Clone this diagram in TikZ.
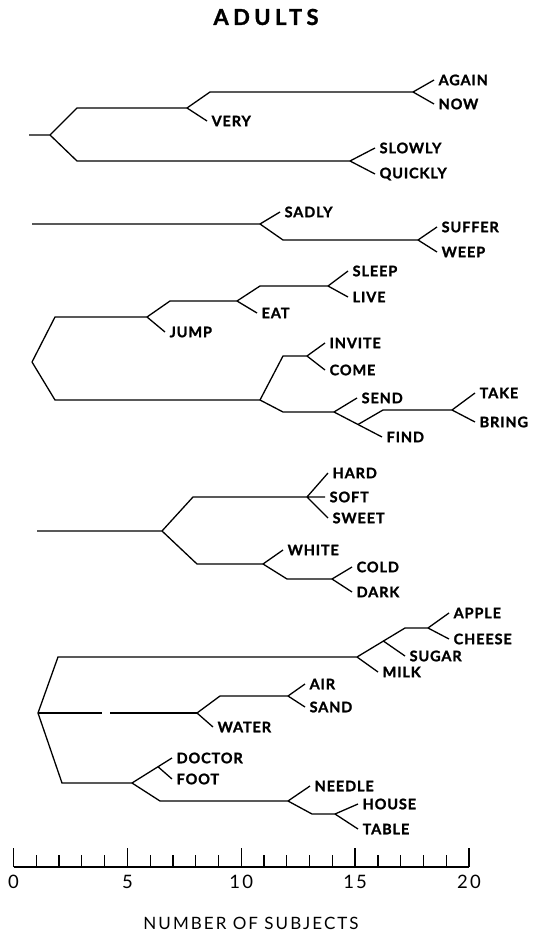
\documentclass[tikz,border=0pt]{standalone}
\usepackage{fontspec}
\setmainfont{Lato}
\newfontfamily\leaffont[LetterSpace=6,BoldFeatures={FakeBold=1.4}]{Lato}
\newfontfamily\titlefont[LetterSpace=20,BoldFeatures={FakeBold=1.4}]{Lato}
\newfontfamily\scalefont[LetterSpace=12]{Lato}
\usetikzlibrary{calc}
\begin{document}
\begin{tikzpicture}[x=1pt,y=-1pt,line width=1.3pt,
  leaf/.style={anchor=west,inner xsep=4pt,inner ysep=1pt,font=\leaffont\bfseries\fontsize{14.5}{15}\selectfont},
  numlabel/.style={font=\scalefont\fontsize{18.5}{18.5}\selectfont,inner sep=0pt}]
\useasboundingbox (0,0) rectangle (535,936);
\node[font=\titlefont\bfseries\fontsize{22}{22}\selectfont](title)at(266,17){ADULTS};
% group 1
\coordinate(s1)at(29,135);
\coordinate(a1)at(50,135);
\coordinate(a2)at(187,108);
\coordinate(a3)at(350,161);
\coordinate(a4)at(413,92);
\node[leaf](very)at(207,121){VERY};
\node[leaf](again)at(434,80){AGAIN};
\node[leaf](now)at(434,104){NOW};
\node[leaf](slowly)at(375,148){SLOWLY};
\node[leaf](quickly)at(375,174){QUICKLY};
\draw(s1)--(a1)--(77,108)--(a2)--(210,92)--(a4);
\draw(a1)--(77,161)--(a3);
\draw(a2)--(very.west);
\draw(a4)--(again.west) (a4)--(now.west);
\draw(a3)--(slowly.west) (a3)--(quickly.west);
% group 2
\coordinate(s2)at(32,224);
\coordinate(b1)at(260,224);
\coordinate(b2)at(418,240);
\node[leaf](sadly)at(280,212){SADLY};
\node[leaf](suffer)at(437,227){SUFFER};
\node[leaf](weep)at(437,252){WEEP};
\draw(s2)--(b1)--(283,240)--(b2);
\draw(b1)--(sadly.west);
\draw(b2)--(suffer.west) (b2)--(weep.west);
% group 3
\coordinate(c1)at(32,362);
\coordinate(c2)at(147,317);
\coordinate(c3)at(237,301);
\coordinate(c4)at(328,286);
\coordinate(c5)at(260,400);
\coordinate(c6)at(307,356);
\coordinate(c7)at(334,412);
\coordinate(c9)at(452,410);
\node[leaf](jump)at(165,332){JUMP};
\node[leaf](eat)at(257,313){EAT};
\node[leaf](sleep)at(348,271){SLEEP};
\node[leaf](live)at(348,297){LIVE};
\node[leaf](invite)at(325,343){INVITE};
\node[leaf](come)at(325,370){COME};
\node[leaf](send)at(357,398){SEND};
\node[leaf](find)at(382,437){FIND};
\node[leaf](take)at(475,393){TAKE};
\node[leaf](bring)at(475,422){BRING};
\coordinate(c8)at($(c7)!0.5!(find.west)$);
\draw(c1)--(55,317)--(c2)--(170,301)--(c3)--(260,286)--(c4);
\draw(c1)--(55,400)--(c5)--(283,356)--(c6);
\draw(c5)--(283,412)--(c7);
\draw(c2)--(jump.west);
\draw(c3)--(eat.west);
\draw(c4)--(sleep.west) (c4)--(live.west);
\draw(c6)--(invite.west) (c6)--(come.west);
\draw(c7)--(send.west) (c7)--(find.west);
\draw(c8)--(383,410)--(c9);
\draw(c9)--(take.west) (c9)--(bring.west);
% group 4
\coordinate(s4)at(37,531);
\coordinate(e1)at(162,531);
\coordinate(e2)at(307,497);
\coordinate(e3)at(263,564);
\coordinate(e4)at(332,579);
\node[leaf](hard)at(328,473){HARD};
\node[leaf](soft)at(325,497){SOFT};
\node[leaf](sweet)at(328,518){SWEET};
\node[leaf](white)at(283,550){WHITE};
\node[leaf](cold)at(352,567){COLD};
\node[leaf](dark)at(352,592){DARK};
\draw(s4)--(e1)--(193,497)--(e2);
\draw(e1)--(197,564)--(e3)--(287,579)--(e4);
\draw(e2)--(hard.west) (e2)--(soft.west) (e2)--(sweet.west);
\draw(e3)--(white.west);
\draw(e4)--(cold.west) (e4)--(dark.west);
% group 5
\coordinate(f1)at(38,713);
\coordinate(g1)at(357,657);
\coordinate(g3)at(428,628);
\coordinate(g4)at(197,713);
\coordinate(g5)at(288,696);
\coordinate(g6)at(132,783);
\coordinate(g8)at(288,801);
\coordinate(g9)at(335,814);
\node[leaf](apple)at(449,613){APPLE};
\node[leaf](cheese)at(449,639){CHEESE};
\node[leaf](sugar)at(405,656){SUGAR};
\node[leaf](milk)at(378,672){MILK};
\node[leaf](air)at(305,684){AIR};
\node[leaf](sand)at(305,707){SAND};
\node[leaf](water)at(213,727){WATER};
\node[leaf](doctor)at(172,758){DOCTOR};
\node[leaf](foot)at(172,779){FOOT};
\node[leaf](needle)at(310,786){NEEDLE};
\node[leaf](house)at(358,804){HOUSE};
\node[leaf](table)at(358,829){TABLE};
\coordinate(g2)at($(g1)!0.55!(405,628)$);
\coordinate(g7)at($(g6)!0.65!(doctor.west)$);
\draw(f1)--(58,657)--(g1)--(405,628)--(g3);
\draw(f1)--(102,713) (110,713)--(g4);
\draw(f1)--(62,783)--(g6);
\draw(g1)--(milk.west) (g2)--(sugar.west);
\draw(g3)--(apple.west) (g3)--(cheese.west);
\draw(g4)--(220,696)--(g5);
\draw(g4)--(water.west);
\draw(g5)--(air.west) (g5)--(sand.west);
\draw(g6)--(doctor.west) (g7)--(foot.west);
\draw(g6)--(160,801)--(g8);
\draw(g8)--(needle.west) (g8)--(312,814)--(g9);
\draw(g9)--(house.west) (g9)--(table.west);
% scale
\coordinate(o)at(13.5,867);
\coordinate(end)at(469,867);
\draw(o)--(end);
\foreach \i in {0,...,20}{\draw(13.5+22.775*\i,867)--++(0,-12);}
\foreach \i in {0,5,...,20}{
  \draw(13.5+22.775*\i,867)--++(0,-19);
  \node[numlabel](n\i)at(13.5+22.775*\i,882){\i};}
\node[font=\scalefont\fontsize{17}{17}\selectfont](xlabel)at(251,923){NUMBER OF SUBJECTS};
\end{tikzpicture}
\end{document}
